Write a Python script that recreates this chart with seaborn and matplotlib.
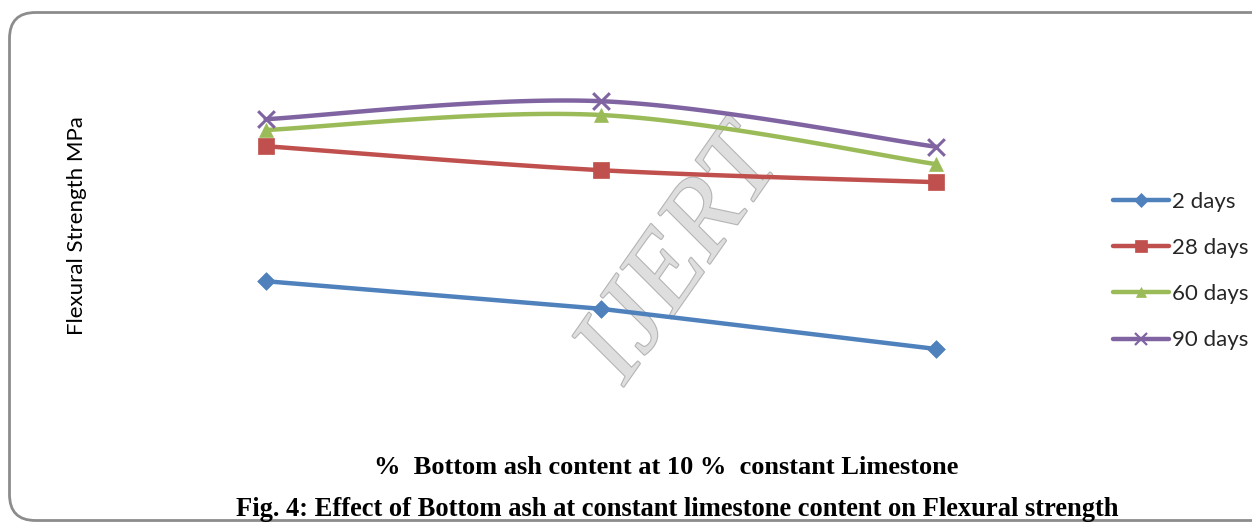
import numpy as np
import pandas as pd
import matplotlib
matplotlib.use("Agg")
import matplotlib.pyplot as plt
import matplotlib.patheffects as pe
from matplotlib.patches import FancyBboxPatch
from matplotlib.lines import Line2D
import seaborn as sns

# Bottom ash replacement levels (category positions on the x axis)
ash_levels = ["0", "10", "20"]

# Flexural strength (MPa) by curing age
days_2 = [3.98, 3.52, 2.85]
days_28 = [6.23, 5.83, 5.63]
days_60 = [6.50, 6.75, 5.93]
days_90 = [6.68, 6.98, 6.22]

series_names = ["2 days", "28 days", "60 days", "90 days"]
series_values = [days_2, days_28, days_60, days_90]
series_smooth = [False, True, True, True]
colors = ["#4F81BD", "#C0504D", "#9BBB59", "#8064A2"]
markers = ["D", "s", "^", "x"]
marker_sizes = [9, 11, 10, 12]

records = []
for name, vals in zip(series_names, series_values):
    for i, (lvl, v) in enumerate(zip(ash_levels, vals)):
        records.append({"age": name, "pos": i, "level": lvl, "strength": v})
df = pd.DataFrame(records)


def smooth_curve(x, y, n=60, tension=0.5):
    """Cardinal-spline path through the points, like spreadsheet smoothed lines."""
    x = np.asarray(x, float)
    y = np.asarray(y, float)
    px = np.concatenate([[x[0]], x, [x[-1]]])
    py = np.concatenate([[y[0]], y, [y[-1]]])
    xs, ys = [], []
    for i in range(1, len(px) - 2):
        p0, p1, p2, p3 = (np.array([px[j], py[j]]) for j in (i - 1, i, i + 1, i + 2))
        m1 = tension * (p2 - p0)
        m2 = tension * (p3 - p1)
        t = np.linspace(0, 1, n)[:, None]
        h00 = 2 * t**3 - 3 * t**2 + 1
        h10 = t**3 - 2 * t**2 + t
        h01 = -2 * t**3 + 3 * t**2
        h11 = t**3 - t**2
        pts = h00 * p1 + h10 * m1 + h01 * p2 + h11 * m2
        xs.extend(pts[:, 0])
        ys.extend(pts[:, 1])
    return np.array(xs), np.array(ys)


sns.set_theme(style="white")
plt.rcParams["font.family"] = ["Lato", "DejaVu Sans"]

fig = plt.figure(figsize=(12.52, 5.23), dpi=100)
W, H = 1252, 523

# background layer in pixel units for the frame and watermark
bg = fig.add_axes([0, 0, 1, 1], zorder=0)
bg.set_xlim(0, W)
bg.set_ylim(H, 0)
bg.axis("off")
frame = FancyBboxPatch((9.5, 12.5), 1300, 508,
                       boxstyle="round,pad=0,rounding_size=26",
                       facecolor="none", edgecolor="#8c8c8c", linewidth=2.0,
                       clip_on=False)
bg.add_patch(frame)
bg.text(682, 258, "IJERT", rotation=55, ha="center", va="center",
        fontsize=78, family="Liberation Serif", style="italic",
        color="#dedede", zorder=0,
        path_effects=[pe.withStroke(linewidth=1.6, foreground="#b4b4b4")])

# plot area in pixel terms: x from 98 to 1104, y from 40 to 440
ax = fig.add_axes([98 / W, 1 - 440 / H, (1104 - 98) / W, 400 / H], zorder=1)
ax.patch.set_alpha(0)
ax.set_xlim(-0.5, 2.5)
ax.set_ylim(80 / 60, 480 / 60)
ax.axis("off")

for name, col, smooth in zip(series_names, colors, series_smooth):
    sub = df[df["age"] == name]
    if smooth:
        sx, sy = smooth_curve(sub["pos"], sub["strength"])
        curve = pd.DataFrame({"pos": sx, "strength": sy})
    else:
        curve = sub[["pos", "strength"]]
    sns.lineplot(data=curve, x="pos", y="strength", ax=ax, color=col,
                 linewidth=3.2, sort=False, estimator=None, legend=False)

for name, col, mk, ms in zip(series_names, colors, markers, marker_sizes):
    sub = df[df["age"] == name]
    kw = dict(linewidths=2.2) if mk == "x" else dict(edgecolor=col, linewidth=0.5)
    ax.scatter(sub["pos"], sub["strength"], marker=mk, s=ms**2, color=col,
               zorder=5, **kw)

# legend
handles = [Line2D([0], [0], color=c, lw=3.2, marker=m, markersize=s * 0.75,
                  markeredgewidth=1.6 if m == "x" else 0.5, markeredgecolor=c)
           for c, m, s in zip(colors, markers, marker_sizes)]
fig.legend(handles, series_names, loc="center left",
           bbox_to_anchor=(1106 / W, 1 - 271 / H), frameon=False,
           fontsize=16, handlelength=2.55, handletextpad=0.1,
           labelspacing=1.18, borderaxespad=0, borderpad=0.3)

# axis titles
fig.text(77 / W, 1 - 226 / H, "Flexural Strength MPa", rotation=90,
         ha="center", va="center", fontsize=16, color="#000000")
fig.text(666 / W, 1 - 468 / H, "%  Bottom ash content at 10 %  constant Limestone",
         ha="center", va="center", fontsize=19, fontweight="bold",
         family="Liberation Serif", color="#000000")
fig.text(677 / W, 1 - 510 / H,
         "Fig. 4: Effect of Bottom ash at constant limestone content on Flexural strength",
         ha="center", va="center", fontsize=19.1, fontweight="bold",
         family="Liberation Serif", color="#000000")

fig.savefig("out.png", dpi=100)
